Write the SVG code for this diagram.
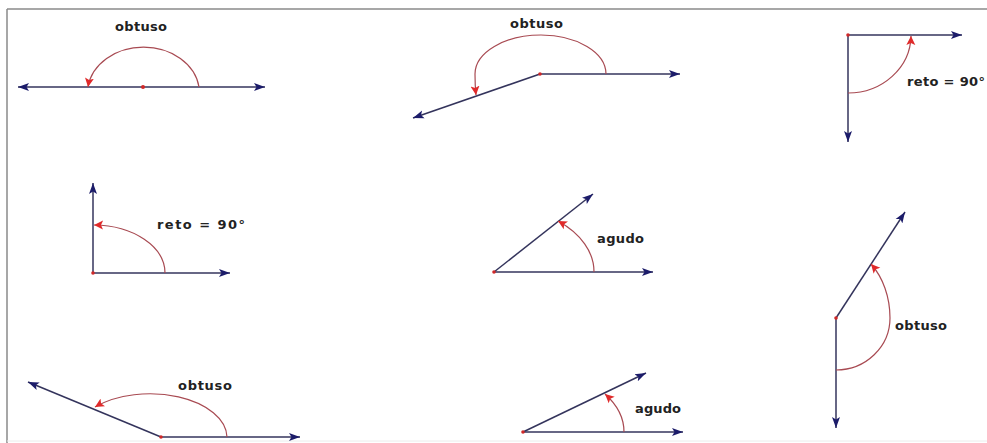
<svg xmlns="http://www.w3.org/2000/svg" width="987" height="443" viewBox="0 0 987 443">
<style>
.ray{stroke:#34345c;stroke-width:1.5;fill:none;marker-end:url(#navy)}
.arc{stroke:#a84a52;stroke-width:1.2;fill:none;marker-end:url(#red)}
.dot{fill:#d02828}
.lbl{font-family:"DejaVu Sans",Verdana,sans-serif;font-weight:bold;font-size:13px;fill:#222}
.frame{stroke:#8a8a8a;stroke-width:1.5;fill:none}
</style>
<defs>
<marker id="navy" markerUnits="userSpaceOnUse" markerWidth="12" markerHeight="10" refX="11" refY="5" orient="auto-start-reverse">
<path d="M0,1 L11,5 L0,9 L2.5,5 z" fill="#1c1c6a"/>
</marker>
<marker id="red" markerUnits="userSpaceOnUse" markerWidth="10" markerHeight="10" refX="9" refY="5" orient="auto">
<path d="M0,0.5 L9,5 L0,9.5 L2,5 z" fill="#e02a2a"/>
</marker>
</defs>
<rect width="987" height="443" fill="#fff"/>
<g id="frame">
<path class="frame" d="M7,9 H987 M7,9 V443"/>
<path d="M7,441 H987" stroke="#ececec" stroke-width="1" fill="none"/>
</g>
<g id="angle1">
<path class="ray" d="M143,87 H265"/>
<path class="ray" d="M143,87 H18"/>
<path class="arc" d="M199,87 A56 46 0 0 0 88,87"/>
<circle class="dot" cx="143" cy="87" r="2"/>
<text class="lbl" x="115" y="31" textLength="52" lengthAdjust="spacing">obtuso</text>
</g>
<g id="angle2">
<path class="ray" d="M540,74 H680"/>
<path class="ray" d="M540,74 L413,118"/>
<path class="arc" d="M606,74 A65 39 0 0 0 541,35 A66 39 0 0 0 475,74 Q475,86 476,95"/>
<circle class="dot" cx="540" cy="74" r="1.8"/>
<text class="lbl" x="510" y="28" textLength="53" lengthAdjust="spacing">obtuso</text>
</g>
<g id="angle3">
<path class="ray" d="M848,35 H962"/>
<path class="ray" d="M848,35 V142"/>
<path class="arc" d="M848,93 A63 58 0 0 0 911,36"/>
<circle class="dot" cx="848" cy="35" r="1.8"/>
<text class="lbl" x="907" y="86" textLength="78" lengthAdjust="spacing">reto = 90°</text>
</g>
<g id="angle4">
<path class="ray" d="M93,273 H230"/>
<path class="ray" d="M93,273 V183"/>
<path class="arc" d="M165,273 A72 48 0 0 0 94,225"/>
<circle class="dot" cx="93" cy="273" r="1.8"/>
<text class="lbl" x="157" y="229" textLength="88" lengthAdjust="spacing">reto = 90°</text>
</g>
<g id="angle5">
<path class="ray" d="M494,272 H653"/>
<path class="ray" d="M494,272 L593,194"/>
<path class="arc" d="M594,272 A100 66 0 0 0 558,221"/>
<circle class="dot" cx="494" cy="272" r="1.8"/>
<text class="lbl" x="597" y="243" textLength="47" lengthAdjust="spacing">agudo</text>
</g>
<g id="angle6">
<path class="ray" d="M836,318 V428"/>
<path class="ray" d="M836,318 L905,212"/>
<path class="arc" d="M836,370 A54 52 0 0 0 890,318 A54 71 0 0 0 871,264"/>
<circle class="dot" cx="836" cy="318" r="1.8"/>
<text class="lbl" x="895" y="330" textLength="52" lengthAdjust="spacing">obtuso</text>
</g>
<g id="angle7">
<path class="ray" d="M161,437 H300"/>
<path class="ray" d="M161,437 L28,382"/>
<path class="arc" d="M227,437 A77 44 0 0 0 95,407"/>
<circle class="dot" cx="161" cy="437" r="1.8"/>
<text class="lbl" x="178" y="390" textLength="54" lengthAdjust="spacing">obtuso</text>
</g>
<g id="angle8">
<path class="ray" d="M523,432 H683"/>
<path class="ray" d="M523,432 L646,373"/>
<path class="arc" d="M624,432 A101 65 0 0 0 605,394"/>
<circle class="dot" cx="523" cy="432" r="1.8"/>
<text class="lbl" x="635" y="413" textLength="46" lengthAdjust="spacing">agudo</text>
</g>
</svg>
